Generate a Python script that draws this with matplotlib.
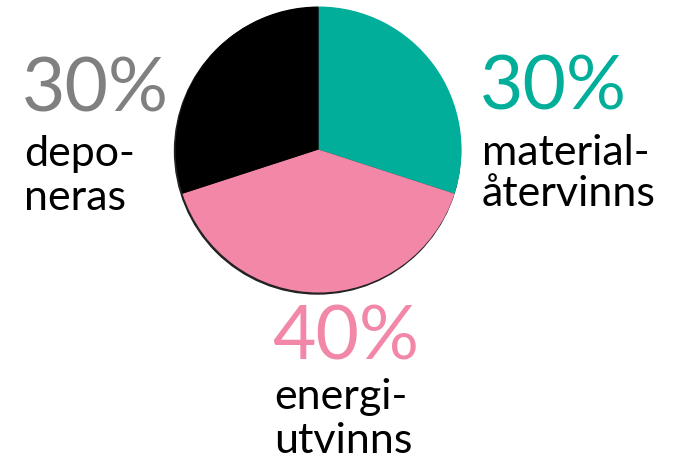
import matplotlib
matplotlib.use("Agg")
import matplotlib.pyplot as plt
from matplotlib.patches import Circle

# Data
categories = ["materialåtervinns", "energiutvinns", "deponeras"]
values = [30, 40, 30]
colors = ["#00AE9A", "#F287A8", "#000000"]
pct_labels = ["30%", "40%", "30%"]
pct_colors = ["#00AE9A", "#F287A8", "#808080"]
label_lines = [["material-", "återvinns"], ["energi-", "utvinns"], ["depo-", "neras"]]

W, H = 673, 463
fig = plt.figure(figsize=(W / 100, H / 100), dpi=100)
ax = fig.add_axes([0, 0, 1, 1])
ax.set_xlim(0, W)
ax.set_ylim(0, H)
ax.set_aspect("equal")
ax.axis("off")

cx, cy, r = 318.5, H - 149.5, 143

# subtle shadow rim
ax.add_patch(Circle((cx - 1.0, cy - 1.5), r, color="#222222", zorder=1))

ax.pie(values, colors=colors, startangle=90, counterclock=False,
       center=(cx, cy), radius=r, frame=True,
       wedgeprops=dict(linewidth=0, zorder=2))
ax.set_xlim(0, W)
ax.set_ylim(0, H)
ax.axis("off")

font = "Lato"
pct_size = 54
lab_size = 31

# label placement (pixels from top-left): left x, pct baseline, line baselines
positions = [
    (480, 110, [165, 206]),   # right
    (272, 360, [409, 453]),   # bottom
    (22, 111, [166, 210]),    # left
]

for (x, pb, lbs), pct, pc, lines in zip(positions, pct_labels, pct_colors, label_lines):
    ax.text(x, H - pb, pct, color=pc, fontsize=pct_size, family=font,
            ha="left", va="baseline")
    for ln, b in zip(lines, lbs):
        ax.text(x + 2, H - b, ln, color="black", fontsize=lab_size, family=font,
                ha="left", va="baseline")

fig.savefig("out.png", dpi=100)
